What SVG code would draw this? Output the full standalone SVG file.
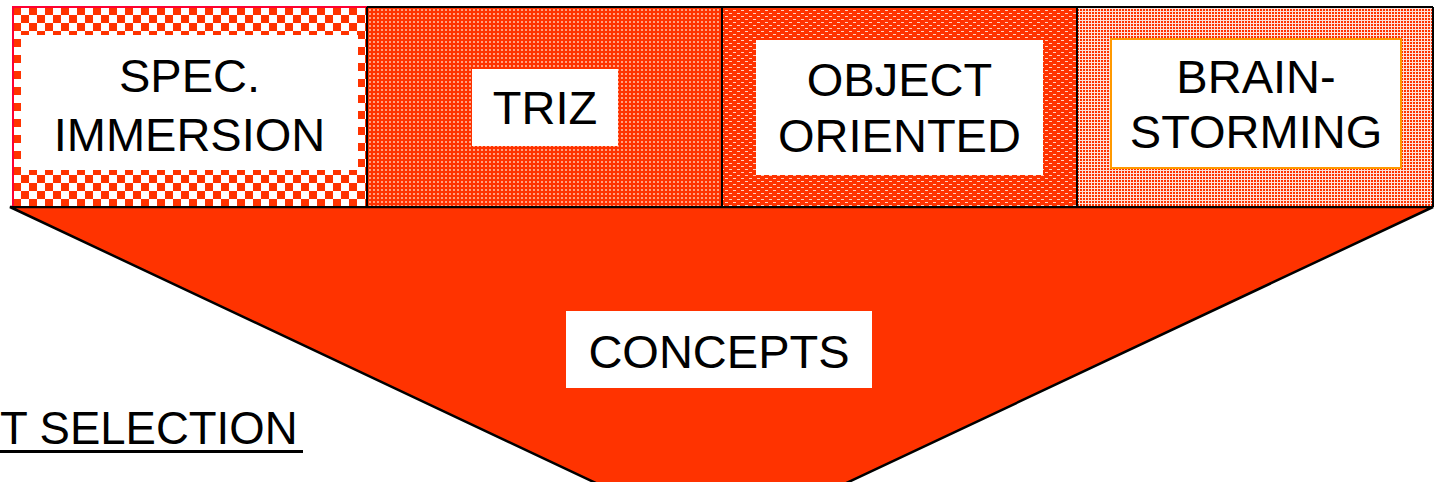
<svg xmlns="http://www.w3.org/2000/svg" width="1439" height="482" viewBox="0 0 1439 482">
<style>
.lbl{font-family:"Liberation Sans",Arial,sans-serif;font-size:47px;fill:#000;text-anchor:middle}
.wb{fill:#fff}
.sep{stroke:#000;stroke-width:2;fill:none}
</style>
<defs>
<pattern id="p1" width="16" height="16" patternUnits="userSpaceOnUse" x="13" y="7">
<rect width="16" height="16" fill="#fff"/>
<rect width="8" height="8" fill="#ff3300"/>
<rect x="8" y="8" width="8" height="8" fill="#ff3300"/>
</pattern>
<pattern id="p2" width="4" height="4" patternUnits="userSpaceOnUse">
<rect width="4" height="4" fill="#ff3300"/>
<rect x="1" y="1" width="2" height="2" fill="#ffa080"/>
</pattern>
<pattern id="p3" width="8" height="6" patternUnits="userSpaceOnUse">
<rect width="8" height="6" fill="#ff3300"/>
<rect x="1" y="1" width="3" height="1" fill="#ffd0c0"/>
<rect x="5" y="4" width="3" height="1" fill="#ffd0c0"/>
</pattern>
<pattern id="p4" width="3" height="3" patternUnits="userSpaceOnUse">
<rect width="3" height="3" fill="#ffe0d8"/>
<rect width="2" height="2" fill="#ff3300"/>
</pattern>
</defs>
<g id="funnel">
<polygon points="10,207 1433,207 721,542" fill="#ff3300" stroke="#000" stroke-width="2.5"/>
</g>
<g id="spec-immersion">
<rect x="13" y="7" width="354" height="200" fill="url(#p1)"/>
<rect x="21" y="35" width="337" height="135" class="wb"/>
<rect x="13" y="7" width="354" height="200" fill="none" stroke="#ff0033" stroke-width="2"/>
<text class="lbl" x="189.5" y="92">SPEC.</text>
<text class="lbl" x="189.5" y="151">IMMERSION</text>
</g>
<g id="triz">
<rect x="367" y="7" width="355" height="200" fill="url(#p2)"/>
<rect x="472" y="69" width="146" height="77" class="wb"/>
<text class="lbl" x="545" y="124">TRIZ</text>
</g>
<g id="object-oriented">
<rect x="722" y="7" width="355" height="200" fill="url(#p3)"/>
<rect x="756" y="40" width="287" height="135" class="wb"/>
<text class="lbl" x="899.5" y="96">OBJECT</text>
<text class="lbl" x="899.5" y="152">ORIENTED</text>
</g>
<g id="brainstorming">
<rect x="1077" y="7" width="356" height="200" fill="url(#p4)"/>
<rect x="1111" y="39" width="290" height="129" class="wb" stroke="#ff9900" stroke-width="2"/>
<text class="lbl" x="1256" y="93">BRAIN-</text>
<text class="lbl" x="1256" y="148">STORMING</text>
</g>
<g id="connectors">
<line x1="367" y1="7" x2="1433" y2="7" class="sep"/>
<line x1="367" y1="7" x2="367" y2="207" class="sep"/>
<line x1="722" y1="7" x2="722" y2="207" class="sep"/>
<line x1="1077" y1="7" x2="1077" y2="207" class="sep"/>
<line x1="1433" y1="7" x2="1433" y2="207" class="sep"/>
<line x1="10" y1="207" x2="1433" y2="207" class="sep" stroke-width="2.5"/>
</g>
<g id="concepts">
<rect x="566" y="311" width="306" height="77" class="wb"/>
<text class="lbl" x="719" y="368">CONCEPTS</text>
</g>
<g id="selection">
<text class="lbl" x="0" y="444" style="text-anchor:start;font-size:45.5px">T SELECTION</text>
<rect x="0" y="450" width="303" height="3" fill="#000"/>
</g>
</svg>
